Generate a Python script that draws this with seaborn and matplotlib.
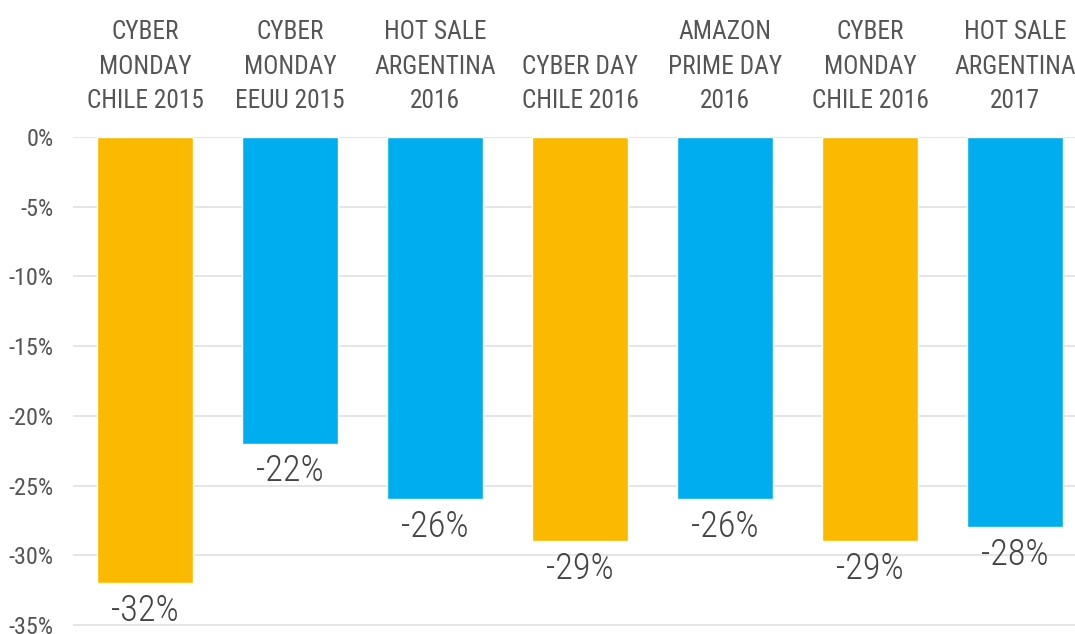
import matplotlib
matplotlib.use("Agg")
import matplotlib.pyplot as plt
import matplotlib.font_manager as fm
import seaborn as sns
import pandas as pd

events = ["CYBER\nMONDAY\nCHILE 2015", "CYBER\nMONDAY\nEEUU 2015", "HOT SALE\nARGENTINA\n2016",
          "CYBER DAY\nCHILE 2016", "AMAZON\nPRIME DAY\n2016", "CYBER\nMONDAY\nCHILE 2016",
          "HOT SALE\nARGENTINA\n2017"]
values = [-32, -22, -26, -29, -26, -29, -28]
groups = ["Chile", "Otro", "Otro", "Chile", "Otro", "Chile", "Otro"]
yticks = [0, -5, -10, -15, -20, -25, -30, -35]

palette = {"Chile": "#FBBA00", "Otro": "#00AEEF"}

sns.set_theme(style="white")

# pick a condensed font that is installed
entries = fm.fontManager.ttflist
candidates = [("Roboto Condensed", "normal"), ("Liberation Sans Narrow", "normal"),
              ("Open Sans Condensed", "normal"), ("DejaVu Sans", "condensed")]
fam, stretch = "DejaVu Sans", "normal"
for name, st in candidates:
    if any(e.name == name and (st == "normal" or str(e.stretch) == st) for e in entries):
        fam, stretch = name, st
        break
plt.rcParams["font.family"] = [fam, "DejaVu Sans"]
plt.rcParams["font.stretch"] = stretch

df = pd.DataFrame({"event": events, "value": values, "group": groups})

fig = plt.figure(figsize=(10.75, 6.34), dpi=100)
renderer = fig.canvas.get_renderer()


def measure(s, size, ls=1.2):
    t = fig.text(0, 0, s, fontsize=size, family=[fam, "DejaVu Sans"], stretch=stretch,
                 linespacing=ls)
    bb = t.get_window_extent(renderer)
    t.remove()
    return bb.width, bb.height


def fit(s, target_w):
    w, _ = measure(s, 20)
    return 20 * target_w / w


top_size = min(fit("CHILE 2015", 117), 24)
val_size = min(fit("-32%", 68), 28)
tick_size = min(fit("-35%", 45), 18)

_, h1 = measure("CYBER", top_size, 1.0)
_, h3 = measure("CYBER\nMONDAY\nCHILE", top_size, 1.0)
pitch = (h3 - h1) / 2
top_ls = 37.5 / pitch if pitch > 0 else 1.2

ax = fig.add_axes([73 / 1075, 0.0, 1 - 73 / 1075, (634 - 137) / 634])
sns.barplot(data=df, x="event", y="value", hue="group", palette=palette, dodge=False,
            width=0.66, legend=False, ax=ax, saturation=1)

ax.set_ylim(-35.65, 0)
ax.set_xlim(-0.497, 6.414)
ax.set_yticks(yticks)
ax.set_yticklabels([f"{t}%" for t in yticks], fontsize=tick_size, color="#555555")
ax.tick_params(axis="y", length=0, pad=14)
ax.yaxis.grid(True, color="#e3e3e3", linewidth=1.3)
ax.set_axisbelow(True)
for s in ax.spines.values():
    s.set_visible(False)

ax.xaxis.tick_top()
ax.tick_params(axis="x", length=0, pad=17)
ax.set_xticks(range(len(events)))
ax.set_xticklabels(events, fontsize=top_size, color="#555555", linespacing=top_ls)
ax.set_xlabel("")
ax.set_ylabel("")

for i, v in enumerate(values):
    ax.annotate(f"{v}%", (i, v), xytext=(0, -7), textcoords="offset points",
                ha="center", va="top", fontsize=val_size, color="#444444",
                fontweight="light")

fig.savefig("out.png", dpi=100)
